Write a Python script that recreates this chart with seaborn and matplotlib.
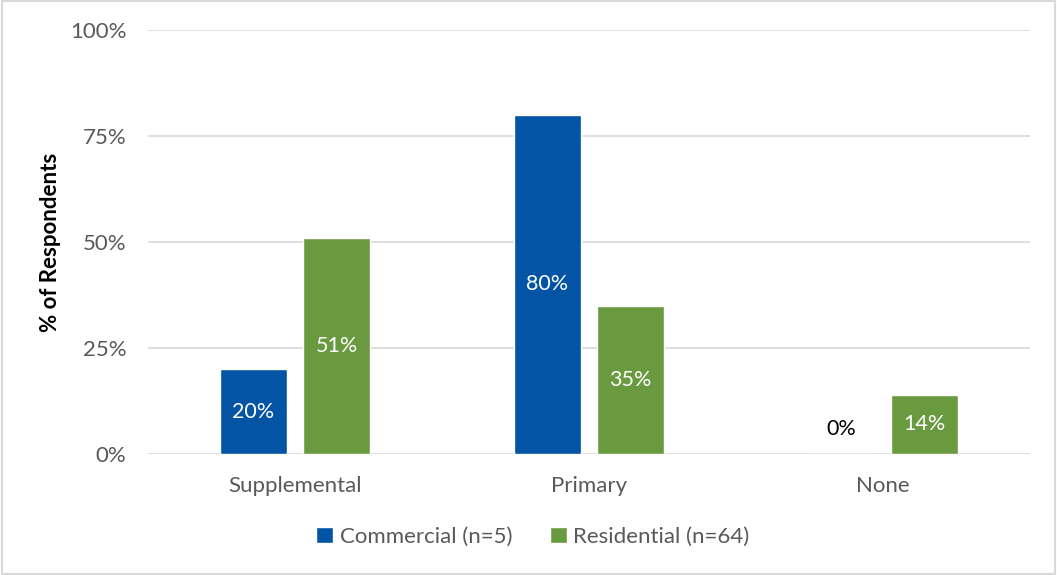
import matplotlib
matplotlib.use("Agg")
import matplotlib.pyplot as plt
import seaborn as sns
import pandas as pd
from matplotlib.patches import Rectangle

categories = ["Supplemental", "Primary", "None"]
series_names = ["Commercial (n=5)", "Residential (n=64)"]
commercial = [20, 80, 0]
residential = [51, 35, 14]
y_ticks = [0, 25, 50, 75, 100]
y_tick_labels = ["0%", "25%", "50%", "75%", "100%"]

colors = ["#0354A5", "#6A9A40"]

sns.set_theme(style="white")
plt.rcParams["font.family"] = ["Lato", "DejaVu Sans"]

df = pd.DataFrame({
    "category": categories * 2,
    "series": [series_names[0]] * 3 + [series_names[1]] * 3,
    "value": commercial + residential,
})

fig = plt.figure(figsize=(10.57, 5.75), dpi=100)
ax = fig.add_axes([148 / 1057, 1 - 454 / 575, (1030 - 148) / 1057, (454 - 30) / 575])

sns.barplot(data=df, x="category", y="value", hue="series", order=categories,
            hue_order=series_names, palette=colors, width=0.565, gap=0.2,
            saturation=1, ax=ax, legend=True, errorbar=None)

ax.set_ylim(0, 100)
ax.set_xlim(-0.5, 2.5)
ax.set_yticks(y_ticks)
ax.set_yticklabels(y_tick_labels)
ax.yaxis.grid(True, color="#D9D9D9", linewidth=1.2)
ax.set_axisbelow(True)
for s in ax.spines.values():
    s.set_visible(False)
ax.tick_params(axis="both", length=0, labelsize=16, colors="#595959")
ax.tick_params(axis="y", pad=15.5)
ax.tick_params(axis="x", pad=16)
ax.set_xlabel("")
ax.set_ylabel("% of Respondents", fontsize=16, fontweight="bold", color="black")
ax.yaxis.set_label_coords(-0.099, 0.5)

# Value labels centred in each bar; empty bars get a dark label just above the baseline
for container in ax.containers:
    for bar, val in zip(container, container.datavalues):
        x = bar.get_x() + bar.get_width() / 2
        if val == 0:
            ax.text(x, 6, f"{val:.0f}%", ha="center", va="center", fontsize=15.5, color="black")
        else:
            ax.text(x, val / 2, f"{val:.0f}%", ha="center", va="center", fontsize=15.5, color="white")

handles, labels = ax.get_legend_handles_labels()
ax.legend_.remove()
fig.legend(handles, labels, loc="center", bbox_to_anchor=(533 / 1057, 1 - 537 / 575),
           ncol=2, frameon=False, fontsize=16, handlelength=0.75, handleheight=0.75,
           handletextpad=0.3, columnspacing=1.7, labelcolor="#595959")

fig.add_artist(Rectangle((0.002, 0.002), 0.996, 0.996, transform=fig.transFigure,
                         fill=False, edgecolor="#D9D9D9", linewidth=1.5))

fig.savefig("out.png", dpi=100)
